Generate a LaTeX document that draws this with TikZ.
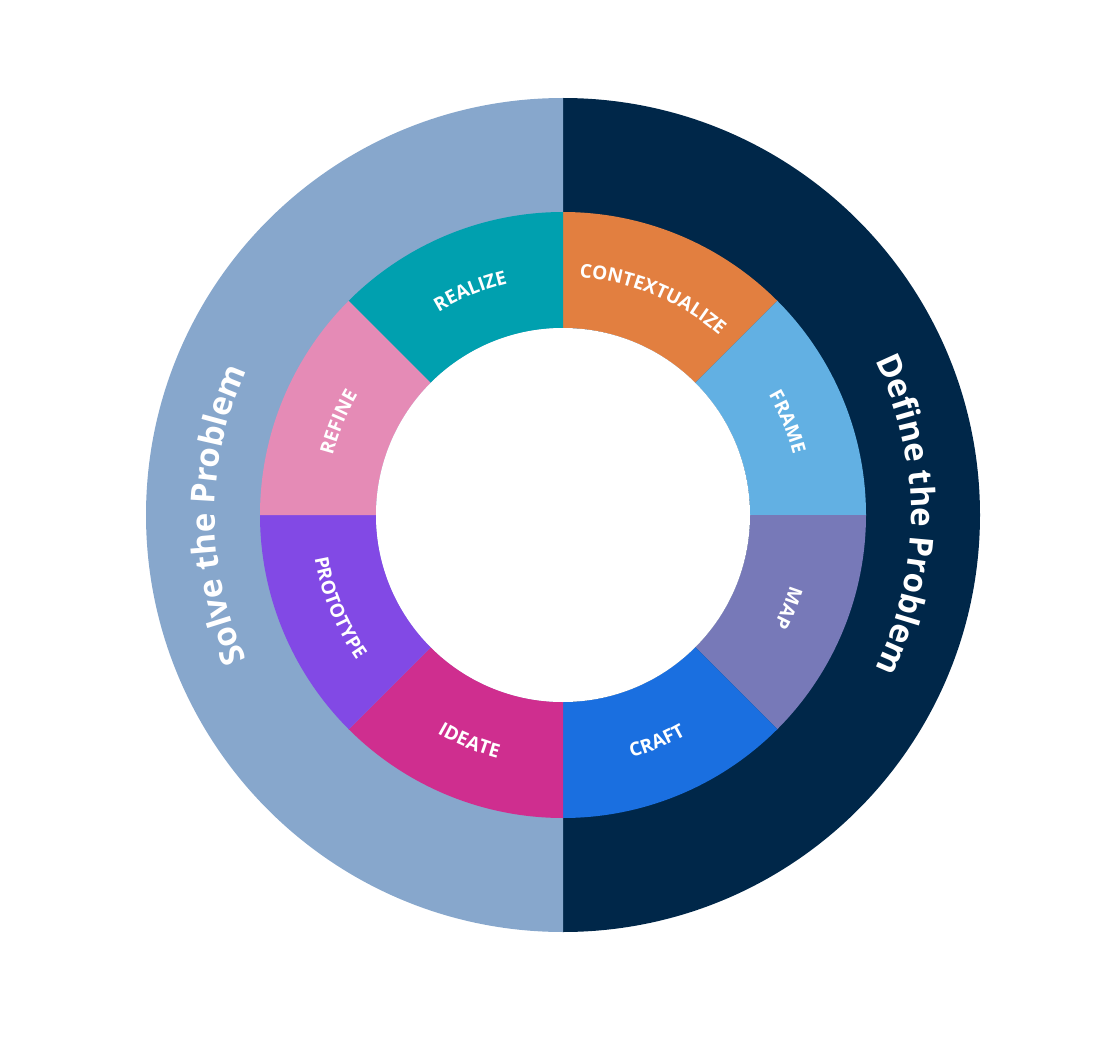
\documentclass[tikz,border=0pt]{standalone}
\usepackage{fontspec}
\setmainfont{Open Sans}
\usetikzlibrary{decorations.text}
\definecolor{dark}{HTML}{002749}
\definecolor{light}{HTML}{87A7CC}
\definecolor{cA}{HTML}{E27F40}
\definecolor{cB}{HTML}{62B0E3}
\definecolor{cC}{HTML}{7779B8}
\definecolor{cD}{HTML}{1A6FE0}
\definecolor{cE}{HTML}{CF2E8F}
\definecolor{cF}{HTML}{8249E5}
\definecolor{cG}{HTML}{E58BB6}
\definecolor{cH}{HTML}{00A0AF}
\tikzset{
 small/.style={decorate,decoration={text along path,text align=center,text color=white,text={|\fontsize{19}{19}\bfseries|#1}}},
 big/.style={decorate,decoration={text along path,text align=center,text color=white,text={|\fontsize{33}{33}\bfseries|#1}}}
}
\begin{document}
\begin{tikzpicture}[x=1pt,y=1pt]
\useasboundingbox (0,0) rectangle (1117,-1043);
\begin{scope}[shift={(563,-515)}]
\fill[dark] (90:417) arc[start angle=90,end angle=-90,radius=417] -- cycle;
\fill[light] (90:417) arc[start angle=90,end angle=270,radius=417] -- cycle;
\foreach \a/\c in {90/cA,45/cB,0/cC,-45/cD,-90/cE,-135/cF,180/cG,135/cH}{
 \fill[\c] (\a:187) arc[start angle=\a,end angle=\a-45,radius=187] -- (\a-45:303) arc[start angle=\a-45,end angle=\a,radius=303] -- cycle;
}
\fill[white] (0,0) circle (187);
% clockwise labels
\path[small=CONTEXTUALIZE] (90:238) arc[start angle=90,end angle=45,radius=238];
\path[small=FRAME] (45:238) arc[start angle=45,end angle=0,radius=238];
\path[small=MAP] (0:238) arc[start angle=0,end angle=-45,radius=238];
\path[small=REFINE] (180:238) arc[start angle=180,end angle=135,radius=238];
\path[small=REALIZE] (135:238) arc[start angle=135,end angle=90,radius=238];
% counterclockwise labels
\path[small=CRAFT] (-90:252) arc[start angle=-90,end angle=-45,radius=252];
\path[small=IDEATE] (-135:252) arc[start angle=-135,end angle=-90,radius=252];
\path[small=PROTOTYPE] (180:252) arc[start angle=180,end angle=225,radius=252];
% outer
\path[big=Define the Problem] (70:348) arc[start angle=70,end angle=-70,radius=348];
\path[big=Solve the Problem] (250:348) arc[start angle=250,end angle=110,radius=348];
\end{scope}
\end{tikzpicture}
\end{document}
